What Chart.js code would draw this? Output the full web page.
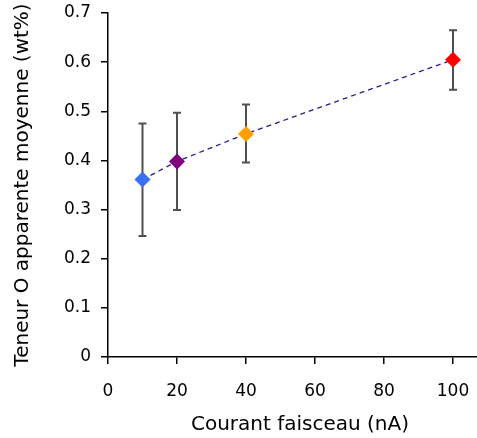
<!DOCTYPE html>
<html>
<head>
<meta charset="utf-8">
<script src="https://cdn.jsdelivr.net/npm/chart.js@4/dist/chart.umd.min.js"></script>
<style>
  html, body { margin: 0; padding: 0; background: #fff; overflow: hidden; }
  /* la zone de tracé d'origine dépasse à droite : le canevas est rogné */
  #cadre { width: 477px; height: 438px; overflow: hidden; }
  #box { width: 492px; height: 438px; }
</style>
</head>
<body>
<div id="cadre"><div id="box"><canvas id="graphique"></canvas></div></div>
<script>
// Données
const courants   = [10, 20, 40, 100];             // nA
const teneurs    = [0.361, 0.398, 0.454, 0.605];  // wt%
const barreHaut  = [0.475, 0.497, 0.514, 0.665];
const barreBas   = [0.246, 0.299, 0.396, 0.544];
const couleurs   = ['#3A6FF7', '#800080', '#FFA000', '#FF0000'];
const ticksX     = [0, 20, 40, 60, 80, 100];
const ticksY     = [0, 0.1, 0.2, 0.3, 0.4, 0.5, 0.6, 0.7];

const police = "'DejaVu Sans', sans-serif";

// barres d'erreur dessinées avec les échelles du graphique
const barresErreur = {
    id: 'barresErreur',
    beforeDatasetsDraw(chart) {
        const c = chart.ctx, sx = chart.scales.x, sy = chart.scales.y;
        c.save();
        c.strokeStyle = '#505050';
        c.lineWidth = 2;
        courants.forEach((v, i) => {
            const x = sx.getPixelForValue(v);
            const yh = sy.getPixelForValue(barreHaut[i]);
            const yb = sy.getPixelForValue(barreBas[i]);
            c.beginPath();
            c.moveTo(x, yh); c.lineTo(x, yb);
            c.moveTo(x - 4, yh); c.lineTo(x + 4, yh);
            c.moveTo(x - 4, yb); c.lineTo(x + 4, yb);
            c.stroke();
        });
        c.restore();
    }
};

new Chart(document.getElementById('graphique'), {
    type: 'scatter',
    data: {
        datasets: [{
            data: courants.map((v, i) => ({ x: v, y: teneurs[i] })),
            showLine: true,
            borderColor: '#202090',
            borderWidth: 1.3,
            borderDash: [5, 4],
            pointStyle: 'rectRot',
            pointRadius: 8,
            pointBackgroundColor: couleurs,
            pointBorderColor: couleurs,
            pointBorderWidth: 0,
        }]
    },
    options: {
        responsive: true,
        maintainAspectRatio: false,
        animation: false,
        layout: { autoPadding: false, padding: { top: 13, right: 0, left: 0, bottom: 0 } },
        plugins: { legend: { display: false }, tooltip: { enabled: false } },
        scales: {
            x: {
                type: 'linear',
                min: 0, max: 111.3,
                afterBuildTicks: s => { s.ticks = ticksX.map(v => ({ value: v })); },
                afterFit: s => { s.height = 81; s.paddingLeft = 0; s.paddingRight = 0; },
                border: { color: '#000', width: 1.5 },
                grid: { drawOnChartArea: false, drawTicks: true, tickLength: 7, color: '#000', lineWidth: 1.5 },
                ticks: { color: '#000', font: { family: police, size: 17 }, padding: 17, maxRotation: 0 },
                title: { display: true, text: 'Courant faisceau (nA)', color: '#000',
                         font: { family: police, size: 20 }, padding: { top: 0, bottom: 1 } }
            },
            y: {
                min: 0, max: 0.7,
                afterBuildTicks: s => { s.ticks = ticksY.map(v => ({ value: v })); },
                afterFit: s => { s.width = 108; s.paddingTop = 0; s.paddingBottom = 0; },
                border: { color: '#000', width: 1.5 },
                grid: { drawOnChartArea: false, drawTicks: true, tickLength: 7, color: '#000', lineWidth: 1.5 },
                ticks: { color: '#000', font: { family: police, size: 17 }, padding: 10,
                         callback: v => String(Math.round(v * 10) / 10) },
                title: { display: true, text: 'Teneur O apparente moyenne (wt%)', color: '#000',
                         font: { family: police, size: 20 }, padding: { top: 11 } }
            }
        }
    },
    plugins: [barresErreur]
});
</script>
</body>
</html>
